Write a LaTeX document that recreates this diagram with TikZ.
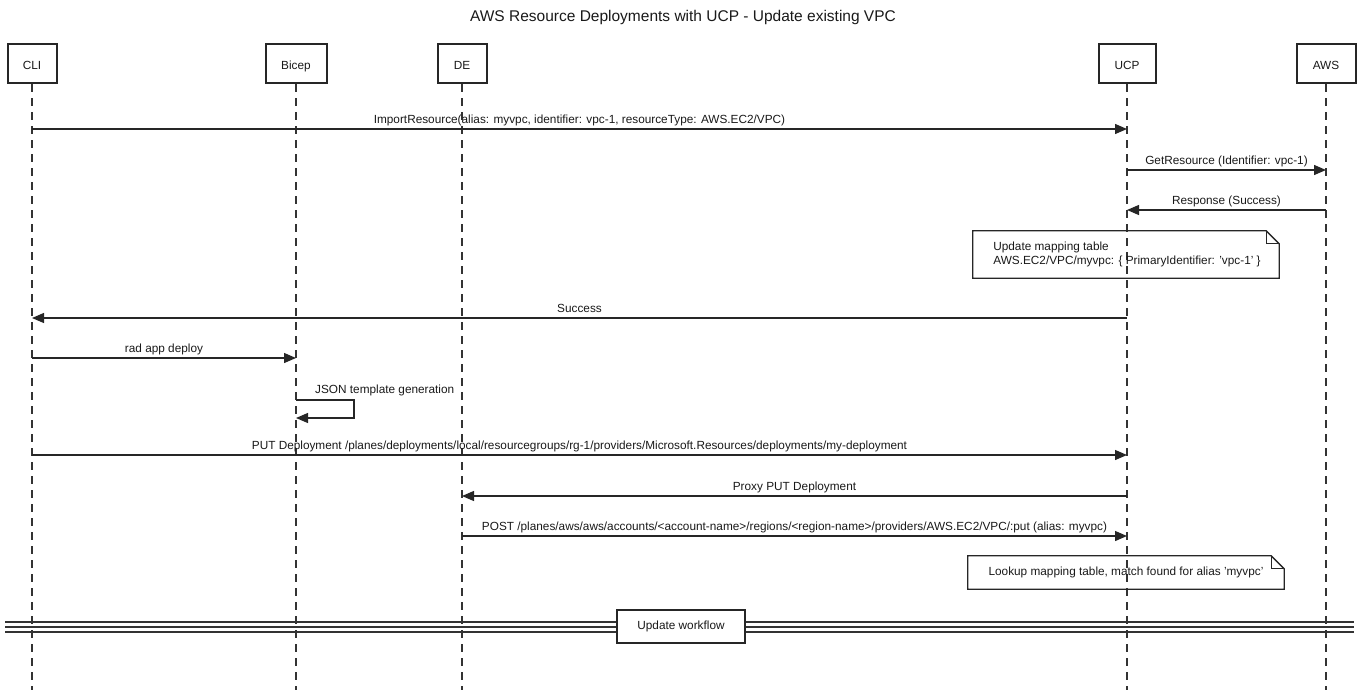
\documentclass[tikz,border=0pt]{standalone}
\usepackage{fontspec}
\setmainfont{Liberation Sans}
\usetikzlibrary{arrows.meta}
\begin{document}
\begin{tikzpicture}[x=1pt,y=-1pt,
  every node/.style={font=\fontsize{11.8}{14}\selectfont, text=black!90},
  part/.style={draw=black!85, line width=2pt, minimum height=39pt, inner sep=0pt, text height=12.8pt, text depth=0pt},
  life/.style={draw=black!80, line width=1.2pt, dash pattern=on 8pt off 6pt},
  msg/.style={draw=black!85, line width=1.3pt, -{Triangle[length=12pt,width=10pt]}},
  lbl/.style={anchor=base, yshift=5.5pt, inner sep=0pt},
  notebox/.style={inner sep=0pt, align=left},
  noteline/.style={draw=black!85, line width=1.3pt},
  divline/.style={draw=black!80, line width=1.2pt},
  divbox/.style={draw=black!85, line width=1.3pt, fill=white, inner sep=0pt, minimum width=128pt, minimum height=33pt}]
\useasboundingbox (0,0) rectangle (1365,696);
\node (title) at (683,17) {\fontsize{15.5}{18}\selectfont AWS Resource Deployments with UCP - Update existing VPC};
% participants
\node[part, minimum width=49pt] (cli) at (32,63.5) {CLI};
\node[part, minimum width=61pt] (bicep) at (296,63.5) {Bicep};
\node[part, minimum width=49pt] (de) at (462,63.5) {DE};
\node[part, minimum width=57pt] (ucp) at (1127,63.5) {UCP};
\node[part, minimum width=59pt] (aws) at (1326,63.5) {AWS};
% lifelines
\foreach \p in {cli,bicep,de,ucp,aws} {
  \draw[life] (\p.south) -- (\p.south |- 0,690);
}
% messages
\draw[msg] (cli |- 0,129) -- node[lbl]{ImportResource(alias: myvpc, identifier: vpc-1, resourceType: AWS.EC2/VPC)} (ucp |- 0,129);
\draw[msg] (ucp |- 0,170) -- node[lbl]{GetResource (Identifier: vpc-1)} (aws |- 0,170);
\draw[msg] (aws |- 0,210) -- node[lbl]{Response (Success)} (ucp |- 0,210);
% note 1
\node[notebox, minimum width=306pt, minimum height=47pt] (n1) at (1127,254.5) {Update mapping table\\AWS.EC2/VPC/myvpc: \{ PrimaryIdentifier: 'vpc-1' \}};
\draw[noteline] ([xshift=-1pt]n1.south west) -- ([xshift=-1pt]n1.north west) -- ([xshift=-14pt]n1.north east) -- ([xshift=-1pt,yshift=-13pt]n1.north east) -- ([xshift=-1pt]n1.south east) -- cycle;
\draw[noteline] ([xshift=-14pt]n1.north east) |- ([xshift=-1pt,yshift=-13pt]n1.north east);
\draw[msg] (ucp |- 0,318) -- node[lbl]{Success} (cli |- 0,318);
\draw[msg] (cli |- 0,358) -- node[lbl]{rad app deploy} (bicep |- 0,358);
% self message
\draw[msg] (bicep |- 0,400) -- ++(58,0) -- ++(0,18) -- (bicep |- 0,418);
\node[anchor=base west, inner sep=0pt] (json) at (315,393) {JSON template generation};
\draw[msg] (cli |- 0,455) -- node[lbl]{PUT Deployment /planes/deployments/local/resourcegroups/rg-1/providers/Microsoft.Resources/deployments/my-deployment} (ucp |- 0,455);
\draw[msg] (ucp |- 0,496) -- node[lbl]{Proxy PUT Deployment} (de |- 0,496);
\draw[msg] (de |- 0,536) -- node[lbl]{POST /planes/aws/aws/accounts/<account-name>/regions/<region-name>/providers/AWS.EC2/VPC/:put (alias: myvpc)} (ucp |- 0,536);
% note 2
\node[notebox, minimum width=316pt, minimum height=33pt] (n2) at (1126,572.5) {Lookup mapping table, match found for alias 'myvpc'};
\draw[noteline] (n2.south west) -- (n2.north west) -- ([xshift=-13pt]n2.north east) -- ([yshift=-13pt]n2.north east) -- (n2.south east) -- cycle;
\draw[noteline] ([xshift=-13pt]n2.north east) |- ([yshift=-13pt]n2.north east);
% divider
\foreach \yy in {622,627,632} {
  \draw[divline] (5,\yy) -- (1354,\yy);
}
\node[divbox] (upd) at (681,626.5) {Update workflow};
\end{tikzpicture}
\end{document}
